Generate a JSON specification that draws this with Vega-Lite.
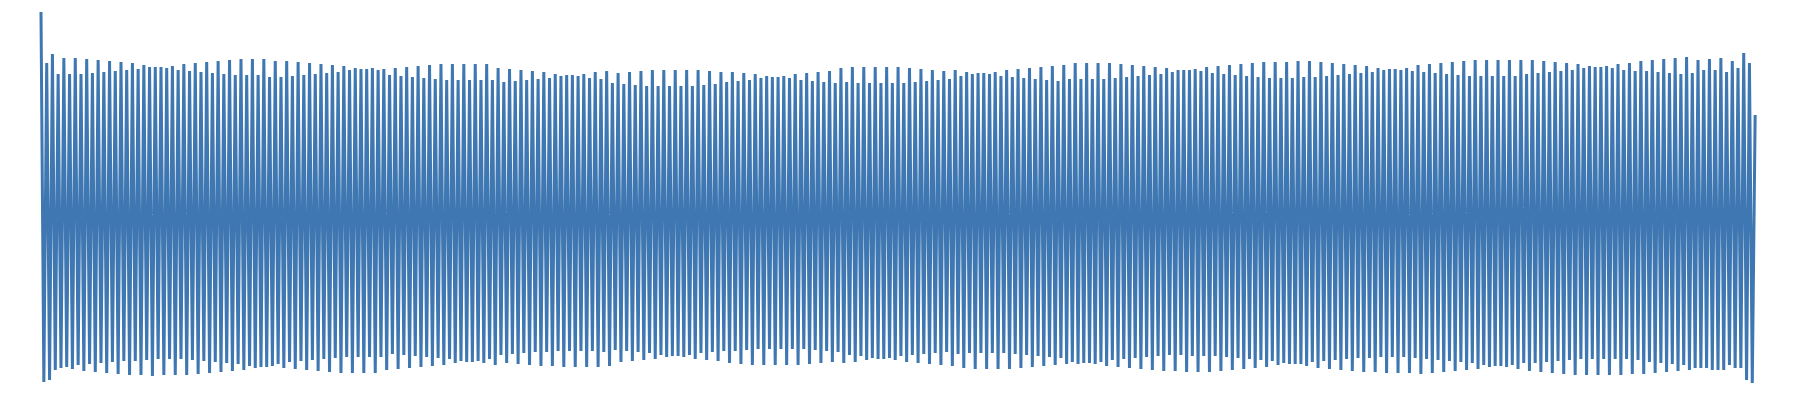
{
  "$schema": "https://vega.github.io/schema/vega-lite/v6.json",
  "width": 1798,
  "height": 400,
  "padding": 0,
  "autosize": {"type": "fit", "contains": "padding"},
  "config": {"view": {"stroke": null}},
  "data": {"values": [
{"i":0,"v":205},{"i":1,"v":-165},{"i":2,"v":154},{"i":3,"v":-163},
{"i":4,"v":163},{"i":5,"v":-153},{"i":6,"v":143},{"i":7,"v":-151},
{"i":8,"v":159},{"i":9,"v":-150},{"i":10,"v":143},{"i":11,"v":-152},
{"i":12,"v":159},{"i":13,"v":-148},{"i":14,"v":143},{"i":15,"v":-154},
{"i":16,"v":158},{"i":17,"v":-147},{"i":18,"v":144},{"i":19,"v":-155},
{"i":20,"v":157},{"i":21,"v":-146},{"i":22,"v":145},{"i":23,"v":-156},
{"i":24,"v":156},{"i":25,"v":-145},{"i":26,"v":146},{"i":27,"v":-157},
{"i":28,"v":155},{"i":29,"v":-144},{"i":30,"v":147},{"i":31,"v":-158},
{"i":32,"v":154},{"i":33,"v":-144},{"i":34,"v":148},{"i":35,"v":-158},
{"i":36,"v":152},{"i":37,"v":-143},{"i":38,"v":150},{"i":39,"v":-159},
{"i":40,"v":150},{"i":41,"v":-142},{"i":42,"v":150},{"i":43,"v":-158},
{"i":44,"v":149},{"i":45,"v":-142},{"i":46,"v":151},{"i":47,"v":-158},
{"i":48,"v":147},{"i":49,"v":-142},{"i":50,"v":153},{"i":51,"v":-158},
{"i":52,"v":146},{"i":53,"v":-143},{"i":54,"v":154},{"i":55,"v":-157},
{"i":56,"v":145},{"i":57,"v":-144},{"i":58,"v":155},{"i":59,"v":-156},
{"i":60,"v":144},{"i":61,"v":-145},{"i":62,"v":156},{"i":63,"v":-155},
{"i":64,"v":143},{"i":65,"v":-146},{"i":66,"v":157},{"i":67,"v":-154},
{"i":68,"v":142},{"i":69,"v":-147},{"i":70,"v":158},{"i":71,"v":-153},
{"i":72,"v":142},{"i":73,"v":-149},{"i":74,"v":158},{"i":75,"v":-151},
{"i":76,"v":142},{"i":77,"v":-150},{"i":78,"v":158},{"i":79,"v":-150},
{"i":80,"v":140},{"i":81,"v":-149},{"i":82,"v":156},{"i":83,"v":-147},
{"i":84,"v":140},{"i":85,"v":-151},{"i":86,"v":156},{"i":87,"v":-145},
{"i":88,"v":141},{"i":89,"v":-152},{"i":90,"v":155},{"i":91,"v":-144},
{"i":92,"v":142},{"i":93,"v":-153},{"i":94,"v":154},{"i":95,"v":-143},
{"i":96,"v":143},{"i":97,"v":-154},{"i":98,"v":153},{"i":99,"v":-142},
{"i":100,"v":144},{"i":101,"v":-155},{"i":102,"v":152},{"i":103,"v":-141},
{"i":104,"v":145},{"i":105,"v":-156},{"i":106,"v":151},{"i":107,"v":-140},
{"i":108,"v":147},{"i":109,"v":-156},{"i":110,"v":149},{"i":111,"v":-140},
{"i":112,"v":148},{"i":113,"v":-156},{"i":114,"v":148},{"i":115,"v":-140},
{"i":116,"v":149},{"i":117,"v":-156},{"i":118,"v":147},{"i":119,"v":-140},
{"i":120,"v":148},{"i":121,"v":-153},{"i":122,"v":142},{"i":123,"v":-137},
{"i":124,"v":149},{"i":125,"v":-152},{"i":126,"v":141},{"i":127,"v":-138},
{"i":128,"v":150},{"i":129,"v":-151},{"i":130,"v":140},{"i":131,"v":-139},
{"i":132,"v":151},{"i":133,"v":-150},{"i":134,"v":139},{"i":135,"v":-140},
{"i":136,"v":152},{"i":137,"v":-149},{"i":138,"v":138},{"i":139,"v":-141},
{"i":140,"v":153},{"i":141,"v":-148},{"i":142,"v":137},{"i":143,"v":-142},
{"i":144,"v":153},{"i":145,"v":-146},{"i":146,"v":137},{"i":147,"v":-144},
{"i":148,"v":153},{"i":149,"v":-145},{"i":150,"v":137},{"i":151,"v":-145},
{"i":152,"v":153},{"i":153,"v":-144},{"i":154,"v":137},{"i":155,"v":-146},
{"i":156,"v":153},{"i":157,"v":-142},{"i":158,"v":137},{"i":159,"v":-148},
{"i":160,"v":149},{"i":161,"v":-138},{"i":162,"v":135},{"i":163,"v":-146},
{"i":164,"v":148},{"i":165,"v":-137},{"i":166,"v":136},{"i":167,"v":-147},
{"i":168,"v":147},{"i":169,"v":-136},{"i":170,"v":137},{"i":171,"v":-148},
{"i":172,"v":146},{"i":173,"v":-135},{"i":174,"v":138},{"i":175,"v":-149},
{"i":176,"v":145},{"i":177,"v":-135},{"i":178,"v":139},{"i":179,"v":-149},
{"i":180,"v":143},{"i":181,"v":-134},{"i":182,"v":141},{"i":183,"v":-150},
{"i":184,"v":142},{"i":185,"v":-134},{"i":186,"v":142},{"i":187,"v":-150},
{"i":188,"v":141},{"i":189,"v":-134},{"i":190,"v":143},{"i":191,"v":-150},
{"i":192,"v":139},{"i":193,"v":-134},{"i":194,"v":145},{"i":195,"v":-150},
{"i":196,"v":138},{"i":197,"v":-135},{"i":198,"v":146},{"i":199,"v":-149},
{"i":200,"v":134},{"i":201,"v":-133},{"i":202,"v":144},{"i":203,"v":-145},
{"i":204,"v":133},{"i":205,"v":-134},{"i":206,"v":145},{"i":207,"v":-144},
{"i":208,"v":132},{"i":209,"v":-135},{"i":210,"v":146},{"i":211,"v":-143},
{"i":212,"v":131},{"i":213,"v":-136},{"i":214,"v":147},{"i":215,"v":-142},
{"i":216,"v":131},{"i":217,"v":-138},{"i":218,"v":147},{"i":219,"v":-140},
{"i":220,"v":131},{"i":221,"v":-139},{"i":222,"v":147},{"i":223,"v":-139},
{"i":224,"v":131},{"i":225,"v":-140},{"i":226,"v":147},{"i":227,"v":-138},
{"i":228,"v":131},{"i":229,"v":-142},{"i":230,"v":147},{"i":231,"v":-136},
{"i":232,"v":132},{"i":233,"v":-143},{"i":234,"v":146},{"i":235,"v":-135},
{"i":236,"v":133},{"i":237,"v":-144},{"i":238,"v":145},{"i":239,"v":-134},
{"i":240,"v":135},{"i":241,"v":-146},{"i":242,"v":145},{"i":243,"v":-134},
{"i":244,"v":136},{"i":245,"v":-147},{"i":246,"v":144},{"i":247,"v":-133},
{"i":248,"v":137},{"i":249,"v":-148},{"i":250,"v":143},{"i":251,"v":-132},
{"i":252,"v":139},{"i":253,"v":-148},{"i":254,"v":141},{"i":255,"v":-132},
{"i":256,"v":140},{"i":257,"v":-148},{"i":258,"v":140},{"i":259,"v":-132},
{"i":260,"v":141},{"i":261,"v":-148},{"i":262,"v":139},{"i":263,"v":-132},
{"i":264,"v":143},{"i":265,"v":-148},{"i":266,"v":137},{"i":267,"v":-132},
{"i":268,"v":144},{"i":269,"v":-147},{"i":270,"v":136},{"i":271,"v":-133},
{"i":272,"v":145},{"i":273,"v":-146},{"i":274,"v":135},{"i":275,"v":-134},
{"i":276,"v":146},{"i":277,"v":-145},{"i":278,"v":134},{"i":279,"v":-135},
{"i":280,"v":149},{"i":281,"v":-146},{"i":282,"v":135},{"i":283,"v":-138},
{"i":284,"v":150},{"i":285,"v":-145},{"i":286,"v":134},{"i":287,"v":-139},
{"i":288,"v":150},{"i":289,"v":-143},{"i":290,"v":134},{"i":291,"v":-141},
{"i":292,"v":150},{"i":293,"v":-142},{"i":294,"v":134},{"i":295,"v":-142},
{"i":296,"v":150},{"i":297,"v":-141},{"i":298,"v":134},{"i":299,"v":-143},
{"i":300,"v":150},{"i":301,"v":-139},{"i":302,"v":134},{"i":303,"v":-145},
{"i":304,"v":149},{"i":305,"v":-138},{"i":306,"v":135},{"i":307,"v":-146},
{"i":308,"v":148},{"i":309,"v":-137},{"i":310,"v":136},{"i":311,"v":-147},
{"i":312,"v":147},{"i":313,"v":-136},{"i":314,"v":137},{"i":315,"v":-148},
{"i":316,"v":146},{"i":317,"v":-135},{"i":318,"v":138},{"i":319,"v":-149},
{"i":320,"v":147},{"i":321,"v":-137},{"i":322,"v":141},{"i":323,"v":-151},
{"i":324,"v":145},{"i":325,"v":-136},{"i":326,"v":143},{"i":327,"v":-152},
{"i":328,"v":144},{"i":329,"v":-136},{"i":330,"v":144},{"i":331,"v":-152},
{"i":332,"v":143},{"i":333,"v":-136},{"i":334,"v":145},{"i":335,"v":-152},
{"i":336,"v":141},{"i":337,"v":-136},{"i":338,"v":147},{"i":339,"v":-152},
{"i":340,"v":140},{"i":341,"v":-137},{"i":342,"v":148},{"i":343,"v":-151},
{"i":344,"v":139},{"i":345,"v":-138},{"i":346,"v":149},{"i":347,"v":-150},
{"i":348,"v":138},{"i":349,"v":-139},{"i":350,"v":150},{"i":351,"v":-149},
{"i":352,"v":137},{"i":353,"v":-140},{"i":354,"v":151},{"i":355,"v":-148},
{"i":356,"v":136},{"i":357,"v":-141},{"i":358,"v":152},{"i":359,"v":-147},
{"i":360,"v":138},{"i":361,"v":-145},{"i":362,"v":154},{"i":363,"v":-147},
{"i":364,"v":138},{"i":365,"v":-146},{"i":366,"v":154},{"i":367,"v":-146},
{"i":368,"v":138},{"i":369,"v":-147},{"i":370,"v":154},{"i":371,"v":-145},
{"i":372,"v":138},{"i":373,"v":-149},{"i":374,"v":154},{"i":375,"v":-143},
{"i":376,"v":139},{"i":377,"v":-150},{"i":378,"v":153},{"i":379,"v":-142},
{"i":380,"v":140},{"i":381,"v":-151},{"i":382,"v":152},{"i":383,"v":-141},
{"i":384,"v":141},{"i":385,"v":-152},{"i":386,"v":151},{"i":387,"v":-140},
{"i":388,"v":142},{"i":389,"v":-153},{"i":390,"v":150},{"i":391,"v":-139},
{"i":392,"v":143},{"i":393,"v":-154},{"i":394,"v":149},{"i":395,"v":-138},
{"i":396,"v":145},{"i":397,"v":-154},{"i":398,"v":147},{"i":399,"v":-138},
{"i":400,"v":147},{"i":401,"v":-155},{"i":402,"v":147},{"i":403,"v":-139},
{"i":404,"v":148},{"i":405,"v":-155},{"i":406,"v":146},{"i":407,"v":-139},
{"i":408,"v":150},{"i":409,"v":-155},{"i":410,"v":144},{"i":411,"v":-139},
{"i":412,"v":151},{"i":413,"v":-154},{"i":414,"v":143},{"i":415,"v":-140},
{"i":416,"v":152},{"i":417,"v":-153},{"i":418,"v":142},{"i":419,"v":-141},
{"i":420,"v":153},{"i":421,"v":-152},{"i":422,"v":141},{"i":423,"v":-142},
{"i":424,"v":154},{"i":425,"v":-151},{"i":426,"v":140},{"i":427,"v":-143},
{"i":428,"v":155},{"i":429,"v":-150},{"i":430,"v":139},{"i":431,"v":-144},
{"i":432,"v":155},{"i":433,"v":-148},{"i":434,"v":139},{"i":435,"v":-146},
{"i":436,"v":155},{"i":437,"v":-147},{"i":438,"v":139},{"i":439,"v":-147},
{"i":440,"v":156},{"i":441,"v":-147},{"i":442,"v":140},{"i":443,"v":-149},
{"i":444,"v":156},{"i":445,"v":-145},{"i":446,"v":140},{"i":447,"v":-151},
{"i":448,"v":155},{"i":449,"v":-144},{"i":450,"v":141},{"i":451,"v":-152},
{"i":452,"v":154},{"i":453,"v":-143},{"i":454,"v":142},{"i":455,"v":-153},
{"i":456,"v":153},{"i":457,"v":-142},{"i":458,"v":143},{"i":459,"v":-154},
{"i":460,"v":152},{"i":461,"v":-141},{"i":462,"v":144},{"i":463,"v":-155},
{"i":464,"v":151},{"i":465,"v":-141},{"i":466,"v":145},{"i":467,"v":-155},
{"i":468,"v":149},{"i":469,"v":-140},{"i":470,"v":147},{"i":471,"v":-156},
{"i":472,"v":148},{"i":473,"v":-140},{"i":474,"v":148},{"i":475,"v":-156},
{"i":476,"v":147},{"i":477,"v":-140},{"i":478,"v":149},{"i":479,"v":-156},
{"i":480,"v":146},{"i":481,"v":-141},{"i":482,"v":152},{"i":483,"v":-157},
{"i":484,"v":145},{"i":485,"v":-142},{"i":486,"v":153},{"i":487,"v":-156},
{"i":488,"v":144},{"i":489,"v":-143},{"i":490,"v":154},{"i":491,"v":-155},
{"i":492,"v":143},{"i":493,"v":-144},{"i":494,"v":155},{"i":495,"v":-154},
{"i":496,"v":142},{"i":497,"v":-145},{"i":498,"v":156},{"i":499,"v":-153},
{"i":500,"v":141},{"i":501,"v":-146},{"i":502,"v":157},{"i":503,"v":-152},
{"i":504,"v":141},{"i":505,"v":-148},{"i":506,"v":157},{"i":507,"v":-150},
{"i":508,"v":141},{"i":509,"v":-149},{"i":510,"v":157},{"i":511,"v":-149},
{"i":512,"v":141},{"i":513,"v":-150},{"i":514,"v":157},{"i":515,"v":-148},
{"i":516,"v":141},{"i":517,"v":-152},{"i":518,"v":157},{"i":519,"v":-146},
{"i":520,"v":143},{"i":521,"v":-154},{"i":522,"v":157},{"i":523,"v":-146},
{"i":524,"v":144},{"i":525,"v":-155},{"i":526,"v":156},{"i":527,"v":-145},
{"i":528,"v":145},{"i":529,"v":-156},{"i":530,"v":155},{"i":531,"v":-144},
{"i":532,"v":146},{"i":533,"v":-157},{"i":534,"v":154},{"i":535,"v":-143},
{"i":536,"v":147},{"i":537,"v":-158},{"i":538,"v":153},{"i":539,"v":-142},
{"i":540,"v":149},{"i":541,"v":-158},{"i":542,"v":151},{"i":543,"v":-142},
{"i":544,"v":150},{"i":545,"v":-158},{"i":546,"v":150},{"i":547,"v":-142},
{"i":548,"v":151},{"i":549,"v":-158},{"i":550,"v":149},{"i":551,"v":-142},
{"i":552,"v":153},{"i":553,"v":-158},{"i":554,"v":147},{"i":555,"v":-142},
{"i":556,"v":154},{"i":557,"v":-157},{"i":558,"v":146},{"i":559,"v":-143},
{"i":560,"v":156},{"i":561,"v":-157},{"i":562,"v":146},{"i":563,"v":-145},
{"i":564,"v":157},{"i":565,"v":-156},{"i":566,"v":145},{"i":567,"v":-146},
{"i":568,"v":158},{"i":569,"v":-155},{"i":570,"v":144},{"i":571,"v":-147},
{"i":572,"v":159},{"i":573,"v":-154},{"i":574,"v":143},{"i":575,"v":-148},
{"i":576,"v":160},{"i":577,"v":-153},{"i":578,"v":144},{"i":579,"v":-151},
{"i":580,"v":157},{"i":581,"v":-151},{"i":582,"v":147},{"i":583,"v":-151},
{"i":584,"v":158},{"i":585,"v":-153},{"i":586,"v":147},{"i":587,"v":-153},
{"i":588,"v":159},{"i":589,"v":-153},{"i":590,"v":145},{"i":591,"v":-148},
{"i":592,"v":156},{"i":593,"v":-151},{"i":594,"v":149},{"i":595,"v":-151},
{"i":596,"v":164},{"i":597,"v":-163},{"i":598,"v":154},{"i":599,"v":-166},
{"i":600,"v":102}
  ]},
  "mark": {"type": "line", "strokeWidth": 3, "color": "#3e77b1"},
  "encoding": {
    "x": {"field": "i", "type": "quantitative", "axis": null, "scale": {"domain": [-14.35, 615.0], "nice": false, "zero": false}},
    "y": {"field": "v", "type": "quantitative", "axis": null, "scale": {"domain": [-183, 217], "nice": false, "zero": false}}
  }
}
